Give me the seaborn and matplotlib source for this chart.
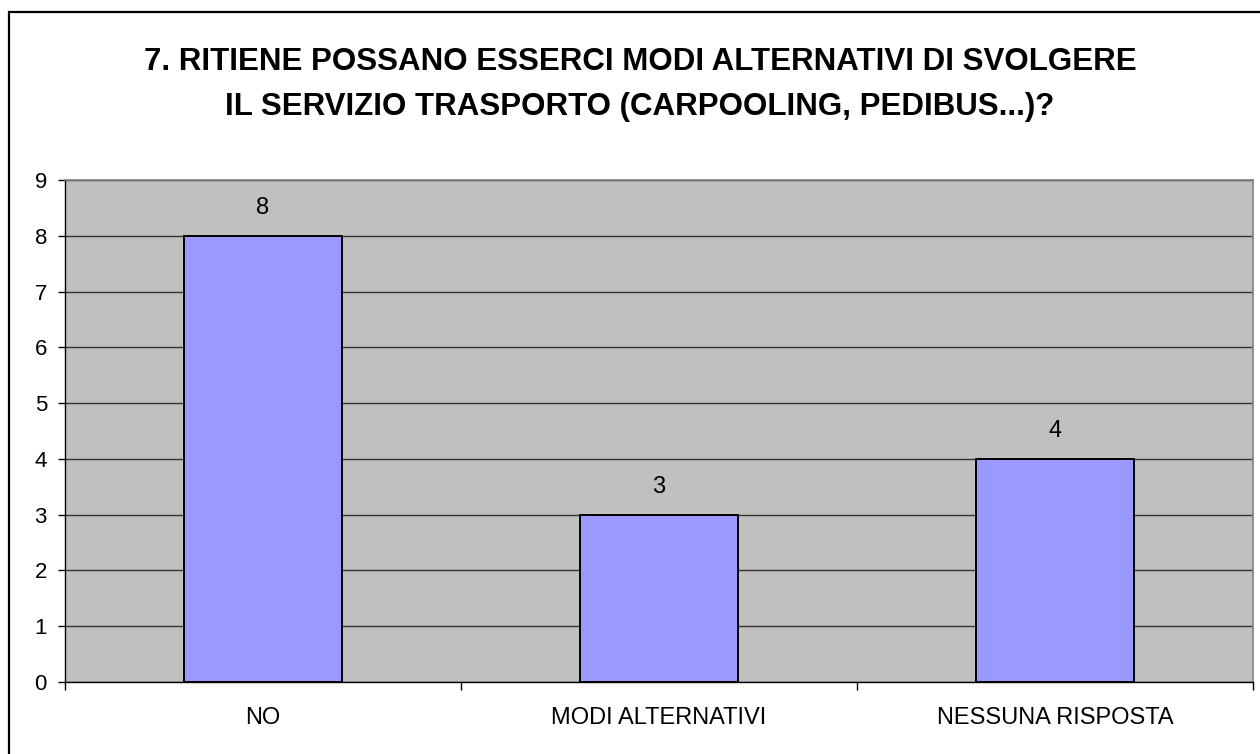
import matplotlib
matplotlib.use("Agg")
import matplotlib.pyplot as plt
import seaborn as sns
from matplotlib.patches import Rectangle

# data
categories = ["NO", "MODI ALTERNATIVI", "NESSUNA RISPOSTA"]
counts = [8, 3, 4]
title_lines = [
    "7. RITIENE POSSANO ESSERCI MODI ALTERNATIVI DI SVOLGERE",
    "IL SERVIZIO TRASPORTO (CARPOOLING, PEDIBUS...)?",
]

sns.set_style("white", {"text.color": "black", "xtick.color": "black",
                        "ytick.color": "black", "axes.labelcolor": "black"})
plt.rcParams["font.family"] = ["Liberation Sans", "DejaVu Sans"]

W, H = 1260, 754
fig = plt.figure(figsize=(W / 100, H / 100), dpi=100)

# outer chart frame (runs off the right and bottom of the picture)
fig.patches.append(Rectangle((9 / W, -0.2), 1.5, 1.2 - 12 / H, transform=fig.transFigure,
                             fill=False, edgecolor="black", linewidth=1.6))

ax = fig.add_axes([65 / W, 1 - 682 / H, (1253 - 65) / W, (682 - 180) / H])
sns.barplot(x=categories, y=counts, color="#9999FF", saturation=1, width=0.4,
            edgecolor="black", linewidth=1.4, ax=ax)

ax.set_facecolor("#C0C0C0")
ax.set_xlim(-0.5, 2.5)
ax.set_ylim(0, 9)
ax.set_yticks(range(10))
ax.yaxis.grid(True, color="#333333", linewidth=1)
ax.set_axisbelow(True)
ax.set_xlabel("")
ax.set_ylabel("")

for side in ["left", "bottom"]:
    ax.spines[side].set_color("black")
    ax.spines[side].set_linewidth(1)
for side in ["top", "right"]:
    ax.spines[side].set_color("#808080")
    ax.spines[side].set_linewidth(1.2)

# ticks at category boundaries, labels centred between them
ax.set_xticks([-0.5, 0.5, 1.5, 2.5])
ax.set_xticklabels([])
ax.set_xticks([0, 1, 2], minor=True)
ax.set_xticklabels(categories, minor=True)
ax.tick_params(axis="x", which="major", direction="out", length=6, width=1, color="black")
ax.tick_params(axis="x", which="minor", length=0, pad=18, labelsize=17, labelcolor="black")
ax.tick_params(axis="y", direction="out", length=5, width=1, color="black", pad=8,
               labelsize=16, labelcolor="black")
ax.tick_params(left=True, bottom=True, which="major")

ax.bar_label(ax.containers[0], labels=[str(v) for v in counts], padding=12,
             fontsize=17, color="black")

fig.text(0.508, 1 - 62 / H, title_lines[0], ha="center", va="center",
         fontsize=22.5, fontweight="bold", color="black")
fig.text(0.508, 1 - 107 / H, title_lines[1], ha="center", va="center",
         fontsize=22.5, fontweight="bold", color="black")

fig.savefig("out.png", dpi=100)
